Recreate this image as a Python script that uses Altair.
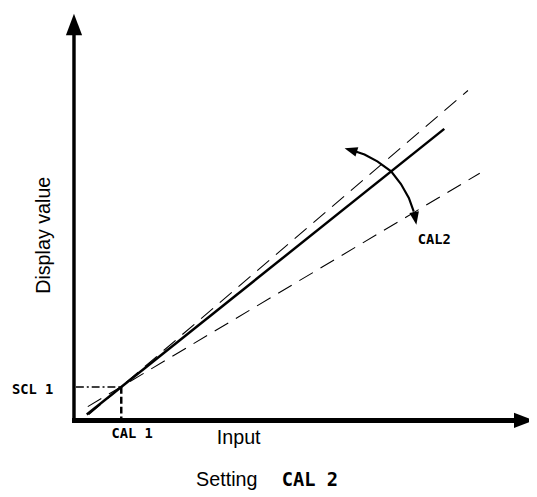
import altair as alt
import pandas as pd

# Diagram geometry (pixel-like diagram units, y grows downward)
main_x = [88, 451]
main_y = [417, 127]
upper_x = [90, 475]
upper_y = [417, 88]
lower_x = [89, 487]
lower_y = [409, 172]
arc_x = [361, 370, 383, 397, 407, 415, 420]
arc_y = [150, 153, 160, 170, 183, 197, 211]
scl_h_x = [77, 123]
scl_h_y = [389, 389]
cal_v_x = [123, 123]
cal_v_y = [389, 421]
yaxis_x = [75, 75]
yaxis_y = [424, 30]
xaxis_x = [73, 529]
xaxis_y = [423, 423]

XS = alt.Scale(domain=[8, 537], range=[0, 529], nice=False, zero=False)
YS = alt.Scale(domain=[8, 497], range=[0, 489], nice=False, zero=False)


def seg(xs, ys):
    return pd.DataFrame({"x": xs, "y": ys, "o": list(range(len(xs)))})


def line(xs, ys, width, dash=None):
    kw = dict(color="black", strokeWidth=width, strokeCap="butt")
    if dash:
        kw["strokeDash"] = dash
    return alt.Chart(seg(xs, ys)).mark_line(**kw).encode(
        x=alt.X("x:Q", scale=XS, axis=None),
        y=alt.Y("y:Q", scale=YS, axis=None),
        order="o:Q",
    )


layers = [
    line(yaxis_x, yaxis_y, 3.5),
    line(xaxis_x, xaxis_y, 5),
    line(main_x, main_y, 2.5),
    line(upper_x, upper_y, 1.1, [16, 9]),
    line(lower_x, lower_y, 1.1, [16, 9]),
    line(scl_h_x, scl_h_y, 1.5, [8, 3, 2, 3]),
    line(cal_v_x, cal_v_y, 2.5, [7, 3]),
    line(arc_x, arc_y, 2.2),
]

# Arrowheads
heads = pd.DataFrame({
    "x": [75, 532, 356, 421.5],
    "y": [21, 423, 148.5, 218],
    "angle": [0, 90, 287, 170],
    "size": [480, 420, 170, 170],
})
head_path = "M0,-1L0.75,1L-0.75,1Z"
layers.append(
    alt.Chart(heads).mark_point(shape=head_path, filled=True, color="black", opacity=1, strokeWidth=0).encode(
        x=alt.X("x:Q", scale=XS, axis=None),
        y=alt.Y("y:Q", scale=YS, axis=None),
        angle=alt.Angle("angle:Q", scale=None),
        size=alt.Size("size:Q", scale=None, legend=None),
    )
)

# Text labels
plain = pd.DataFrame({
    "x": [45, 220, 199],
    "y": [235, 441, 484],
    "t": ["Display value", "Input", "Setting"],
    "a": [270, 0, 0],
    "al": ["center", "left", "left"],
})
for al in ["center", "left"]:
    layers.append(
        alt.Chart(plain[plain.al == al]).mark_text(
            font="Liberation Sans", fontSize=20, color="black", align=al
        ).encode(
            x=alt.X("x:Q", scale=XS, axis=None),
            y=alt.Y("y:Q", scale=YS, axis=None),
            text="t:N",
            angle=alt.Angle("a:Q", scale=None),
        )
    )

seg_labels = pd.DataFrame({
    "x": [12, 113, 424],
    "y": [392, 437, 240],
    "t": ["SCL 1", "CAL 1", "CAL2"],
})
layers.append(
    alt.Chart(seg_labels).mark_text(
        font="DejaVu Sans Mono", fontWeight="bold", fontSize=14, color="black", align="left"
    ).encode(
        x=alt.X("x:Q", scale=XS, axis=None),
        y=alt.Y("y:Q", scale=YS, axis=None),
        text="t:N",
    )
)
big_seg = pd.DataFrame({"x": [286], "y": [484], "t": ["CAL 2"]})
layers.append(
    alt.Chart(big_seg).mark_text(
        font="DejaVu Sans Mono", fontWeight="bold", fontSize=19, color="black", align="left"
    ).encode(
        x=alt.X("x:Q", scale=XS, axis=None),
        y=alt.Y("y:Q", scale=YS, axis=None),
        text="t:N",
    )
)

chart = alt.layer(*layers).properties(
    width=529, height=489, padding=0, autosize=alt.AutoSizeParams(type="none")
).configure_view(stroke=None)

chart.save("out.html", embed_options={"renderer": "svg", "actions": False})
